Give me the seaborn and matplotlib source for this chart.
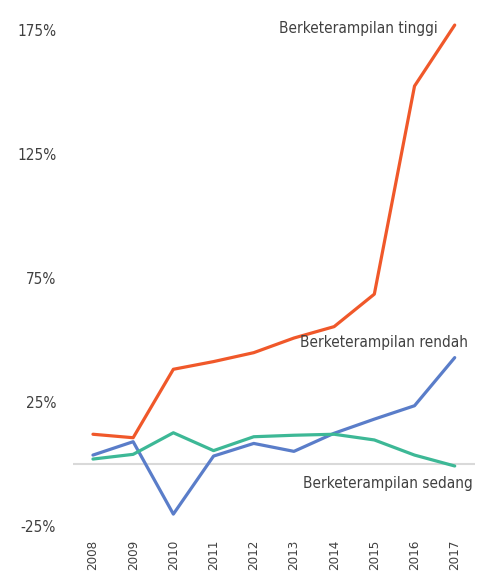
import matplotlib
matplotlib.use("Agg")
import matplotlib.pyplot as plt
from matplotlib import font_manager
from matplotlib.ticker import FuncFormatter
import pandas as pd
import seaborn as sns

# Data (% change)
years = ["2008", "2009", "2010", "2011", "2012", "2013", "2014", "2015", "2016", "2017"]
tinggi = [12.0, 10.6, 38.2, 41.3, 44.9, 50.8, 55.4, 68.5, 152.4, 177.0]
rendah = [3.6, 9.0, -20.2, 3.2, 8.3, 5.1, 12.4, 18.1, 23.5, 42.9]
sedang = [2.0, 3.9, 12.6, 5.4, 11.0, 11.6, 12.0, 9.7, 3.6, -0.8]
series_names = ["Berketerampilan tinggi", "Berketerampilan rendah", "Berketerampilan sedang"]
y_ticks = [-25, 25, 75, 125, 175]

colors = {
    "Berketerampilan tinggi": "#F0582A",
    "Berketerampilan rendah": "#5A7DC9",
    "Berketerampilan sedang": "#3DB896",
}

sns.set_theme(style="white")

# look for a condensed face (the reference uses a narrow font)
family, stretch, scale = "Roboto", "normal", 0.8
for f in font_manager.fontManager.ttflist:
    st = f.stretch
    narrow = ("Condensed" in f.name or "Narrow" in f.name
              or st in ("condensed", "semi-condensed", "extra-condensed")
              or (isinstance(st, int) and st < 100))
    if narrow and f.style == "normal":
        family, stretch, scale = f.name, st, 1.0
        break
plt.rcParams["font.family"] = [family, "DejaVu Sans"]
plt.rcParams["font.stretch"] = stretch
plt.rcParams["font.weight"] = "light"
text_color = "#404040"

df = pd.DataFrame({"year": years, series_names[0]: tinggi,
                   series_names[1]: rendah, series_names[2]: sedang})
long_df = df.melt(id_vars="year", var_name="series", value_name="value")

fig = plt.figure(figsize=(4.89, 5.72), dpi=100)
ax = fig.add_axes([0.149, 0.0804, 0.822, 0.8888])

ax.axhline(0, color="#D9D9D9", lw=1.5, zorder=1)
sns.lineplot(data=long_df, x="year", y="value", hue="series", palette=colors,
             lw=2.3, ax=ax, legend=False, sort=False, zorder=3)

ax.set_xlim(-0.5, 9.5)
ax.set_ylim(-25, 180)
ax.set_yticks(y_ticks)
ax.yaxis.set_major_formatter(FuncFormatter(lambda v, p: f"{v:.0f}%"))
ax.set_xlabel("")
ax.set_ylabel("")
for s in ax.spines.values():
    s.set_visible(False)
ax.tick_params(axis="y", length=0, pad=12, labelsize=11 * scale, labelcolor=text_color)
ax.tick_params(axis="x", length=0, pad=10, labelsize=9.5 * scale, labelcolor=text_color, rotation=90)

# series labels
lab_size = 11 * scale
ax.text(8.58, 175.5, series_names[0], ha="right", va="center", fontsize=lab_size, color=text_color)
ax.text(9.33, 48.8, series_names[1], ha="right", va="center", fontsize=lab_size, color=text_color)
ax.text(9.45, -7.7, series_names[2], ha="right", va="center", fontsize=lab_size, color=text_color)

fig.savefig("out.png", dpi=100)
